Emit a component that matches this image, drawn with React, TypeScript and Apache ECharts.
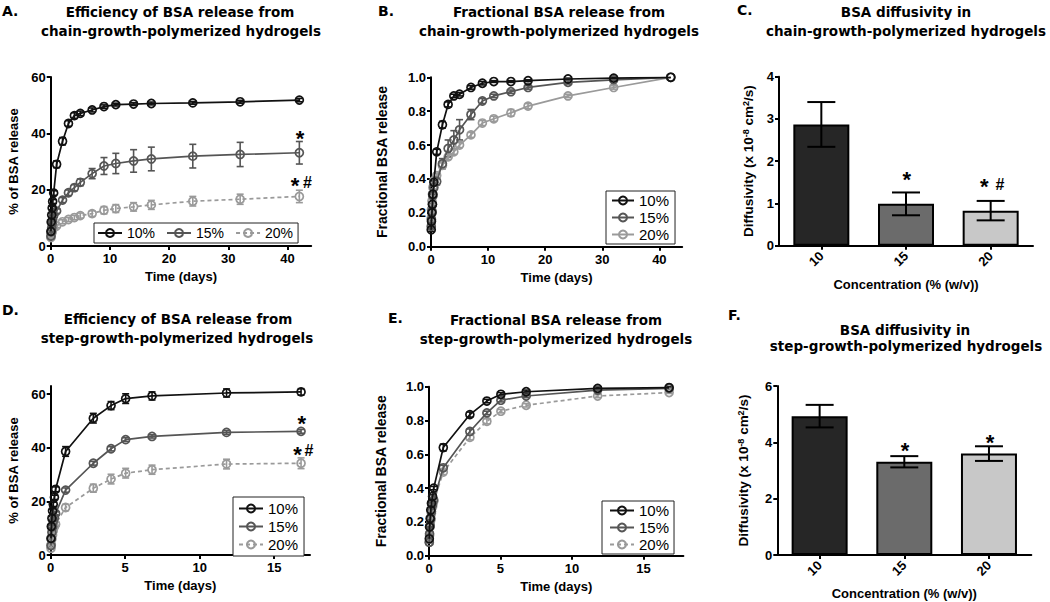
import React, { useEffect, useRef } from "react";
import * as echarts from "echarts";

// ---------- Data: chain-growth (panels A, B) ----------
const chainDays = [0.04, 0.08, 0.17, 0.25, 0.33, 0.5, 1, 2, 3, 4, 5, 7, 9, 11, 14, 17, 24, 32, 42];
const chainPct10 = [5.2, 8.5, 11, 13.5, 15.8, 18.8, 29, 37.2, 43.5, 46.3, 47.1, 48.3, 49.5, 50.2, 50.4, 50.6, 50.8, 51.2, 51.8];
const chainPct10Err = [0.5, 0.5, 0.6, 0.6, 0.7, 0.8, 1.2, 1.3, 1.0, 1.0, 0.8, 0.7, 0.6, 0.5, 0.5, 0.5, 0.5, 0.5, 0.6];
const chainPct15 = [3.5, 5, 6.5, 8, 9.3, 10.8, 12.4, 16.3, 18.9, 20.7, 22.6, 25.7, 28.4, 29.3, 30.2, 30.9, 31.9, 32.5, 33.1];
const chainPct15Err = [0.3, 0.4, 0.5, 0.5, 0.6, 0.6, 0.8, 0.9, 1.0, 1.1, 1.2, 1.8, 3.0, 3.6, 4.0, 4.2, 4.2, 4.3, 4.0];
const chainPct20 = [3, 3.8, 4.5, 5.2, 5.8, 6.4, 7.1, 8.6, 9.4, 10.1, 10.8, 11.5, 12.7, 13.3, 13.9, 14.6, 15.9, 16.6, 17.6];
const chainPct20Err = [0.3, 0.3, 0.4, 0.4, 0.5, 0.5, 0.6, 0.7, 0.7, 0.8, 0.9, 1.0, 1.3, 1.4, 1.5, 1.6, 1.7, 1.8, 2.2];

const chainFrac10 = [0.10, 0.15, 0.20, 0.25, 0.31, 0.38, 0.56, 0.72, 0.84, 0.89, 0.90, 0.94, 0.965, 0.975, 0.975, 0.98, 0.99, 0.995, 1.0];
const chainFrac10Err = [0.01, 0.01, 0.01, 0.01, 0.01, 0.01, 0.015, 0.02, 0.015, 0.01, 0.01, 0.01, 0.01, 0.005, 0.005, 0.005, 0.005, 0.005, 0];
const chainFrac15 = [0.12, 0.16, 0.21, 0.25, 0.30, 0.35, 0.385, 0.49, 0.58, 0.63, 0.69, 0.78, 0.86, 0.89, 0.915, 0.94, 0.97, 0.985, 1.0];
const chainFrac15Err = [0.01, 0.01, 0.01, 0.01, 0.01, 0.015, 0.02, 0.03, 0.05, 0.055, 0.06, 0.03, 0.015, 0.01, 0.01, 0.01, 0.01, 0.005, 0];
const chainFrac20 = [0.17, 0.22, 0.27, 0.31, 0.35, 0.39, 0.42, 0.48, 0.53, 0.56, 0.60, 0.66, 0.73, 0.755, 0.79, 0.83, 0.89, 0.94, 1.0];
const chainFrac20Err = [0.01, 0.01, 0.01, 0.01, 0.01, 0.01, 0.015, 0.015, 0.015, 0.015, 0.015, 0.015, 0.015, 0.015, 0.02, 0.015, 0.01, 0.01, 0];

// ---------- Data: step-growth (panels D, E) ----------
const stepDays = [0.02, 0.04, 0.08, 0.125, 0.17, 0.25, 0.33, 1, 2.86, 4.05, 5.03, 6.8, 11.8, 16.8];
const stepPct10 = [6.2, 10.6, 13.7, 16.4, 18.9, 21.5, 24.5, 38.6, 51, 55.7, 58.3, 59.3, 60.4, 60.8];
const stepPct10Err = [0.5, 0.6, 0.7, 0.7, 0.8, 0.8, 0.9, 1.8, 1.8, 1.5, 1.8, 1.5, 1.5, 1.2];
const stepPct15 = [3.5, 6, 8.5, 10.5, 12.5, 14, 15.5, 24.2, 34.2, 39.6, 43, 44.2, 45.7, 46.1];
const stepPct15Err = [0.3, 0.4, 0.5, 0.5, 0.5, 0.6, 0.6, 0.8, 0.7, 0.8, 0.7, 0.6, 0.7, 0.7];
const stepPct20 = [2.5, 4, 6, 7.5, 9, 10.5, 11.5, 17.7, 24.9, 28.3, 30.5, 31.8, 33.9, 34.2];
const stepPct20Err = [0.3, 0.4, 0.5, 0.6, 0.7, 0.8, 0.8, 1.2, 1.5, 1.8, 1.8, 1.7, 1.8, 2.0];

const stepFrac10 = [0.10, 0.17, 0.22, 0.27, 0.31, 0.35, 0.40, 0.64, 0.835, 0.915, 0.955, 0.97, 0.99, 0.995];
const stepFrac10Err = [0.005, 0.005, 0.01, 0.01, 0.01, 0.01, 0.01, 0.02, 0.015, 0.01, 0.01, 0.01, 0.005, 0.005];
const stepFrac15 = [0.08, 0.13, 0.18, 0.22, 0.26, 0.30, 0.33, 0.52, 0.735, 0.845, 0.92, 0.945, 0.98, 0.99];
const stepFrac15Err = [0.005, 0.005, 0.01, 0.01, 0.01, 0.01, 0.01, 0.015, 0.015, 0.01, 0.01, 0.01, 0.005, 0.005];
const stepFrac20 = [0.08, 0.12, 0.17, 0.21, 0.25, 0.29, 0.32, 0.495, 0.70, 0.795, 0.855, 0.89, 0.945, 0.965];
const stepFrac20Err = [0.005, 0.005, 0.01, 0.01, 0.01, 0.01, 0.01, 0.015, 0.015, 0.015, 0.01, 0.01, 0.01, 0.005];

// ---------- Data: diffusivity (panels C, F) ----------
const concLabels = ["10", "15", "20"];
const chainDiff = [2.87, 0.99, 0.83];
const chainDiffErr = [0.53, 0.27, 0.23];
const stepDiff = [4.93, 3.31, 3.6];
const stepDiffErr = [0.4, 0.2, 0.26];

const seriesLabels = ["10%", "15%", "20%"];
const timeTicksChain = [0, 10, 20, 30, 40];
const timeTicksStep = [0, 5, 10, 15];

// ---------- Styles ----------
const FONT = "'Liberation Sans', Arial, sans-serif";
const TFONT = "'DejaVu Sans', 'Liberation Sans', sans-serif";
const lineColors = ["#111111", "#555555", "#9a9a9a"];
const barColors = ["#262626", "#6b6b6b", "#c8c8c8"];

function errRender(capHalf: number, width: number) {
  return (params: any, api: any) => {
    const x = api.value(0);
    const y = api.value(1);
    const e = api.value(2);
    if (!e) return { type: "group", children: [] };
    const hi = api.coord([x, y + e]);
    const lo = api.coord([x, y - e]);
    const style = { stroke: api.visual("color"), lineWidth: width, fill: "none" };
    return {
      type: "group",
      children: [
        { type: "line", shape: { x1: hi[0], y1: hi[1], x2: lo[0], y2: lo[1] }, style },
        { type: "line", shape: { x1: hi[0] - capHalf, y1: hi[1], x2: hi[0] + capHalf, y2: hi[1] }, style },
        { type: "line", shape: { x1: lo[0] - capHalf, y1: lo[1], x2: lo[0] + capHalf, y2: lo[1] }, style },
      ],
    };
  };
}

function lineSet(panel: string, gi: number, idx: number, days: number[], vals: number[], errs: number[], dashed: boolean) {
  const color = lineColors[idx];
  return [
    {
      type: "custom",
      xAxisIndex: gi,
      yAxisIndex: gi,
      silent: true,
      z: 2,
      itemStyle: { color },
      renderItem: errRender(3.5, 1.6),
      data: days.map((d, i) => [d, vals[i], errs[i]]),
    },
    {
      name: panel + "|" + seriesLabels[idx],
      type: "line",
      xAxisIndex: gi,
      yAxisIndex: gi,
      z: 3 + (2 - idx),
      symbol: "circle",
      symbolSize: 8,
      showSymbol: true,
      lineStyle: { color, width: 1.7, type: dashed ? [4, 3] : "solid" },
      itemStyle: { color: "rgba(255,255,255,0)", borderColor: color, borderWidth: 1.7 },
      emphasis: { disabled: true },
      data: days.map((d, i) => [d, vals[i]]),
    },
  ];
}

const axisBase = {
  axisLine: { show: true, onZero: false, lineStyle: { color: "#000", width: 2 } },
  axisTick: { show: true, length: 4, lineStyle: { color: "#000", width: 2 } },
  splitLine: { show: false },
  nameLocation: "middle",
};
const labelBase = { color: "#000", fontSize: 13, fontWeight: "bold", fontFamily: FONT };
const nameBase = { color: "#000", fontSize: 13, fontWeight: "bold", fontFamily: FONT };

function timeAxis(gi: number, max: number, interval: number, ticks: number[]) {
  return {
    ...axisBase,
    type: "value",
    gridIndex: gi,
    min: 0,
    max,
    interval,
    name: "Time (days)",
    nameGap: 24,
    nameTextStyle: nameBase,
    axisTick: { ...axisBase.axisTick, customValues: ticks },
    axisLabel: { ...labelBase, margin: 6, customValues: ticks },
  };
}

function valAxis(gi: number, name: any, max: number, interval: number, ticks: number[], gap: number, fmt?: (v: number) => string, rich?: any, nameSize = 13) {
  return {
    ...axisBase,
    type: "value",
    gridIndex: gi,
    min: 0,
    max,
    interval,
    name,
    nameGap: gap,
    nameTextStyle: rich ? { ...nameBase, fontSize: nameSize, rich } : { ...nameBase, fontSize: nameSize },
    axisTick: { ...axisBase.axisTick, customValues: ticks },
    axisLabel: { ...labelBase, margin: 5, customValues: ticks, formatter: fmt },
  };
}

function catAxis(gi: number) {
  return {
    ...axisBase,
    type: "category",
    gridIndex: gi,
    data: concLabels,
    name: "Concentration (% (w/v))",
    nameGap: 32,
    nameTextStyle: nameBase,
    axisTick: { ...axisBase.axisTick, alignWithLabel: true },
    axisLabel: { ...labelBase, rotate: 45, margin: 8 },
  };
}

function barSet(gi: number, vals: number[], errs: number[]) {
  return [
    {
      type: "bar",
      xAxisIndex: gi,
      yAxisIndex: gi,
      barWidth: 56,
      z: 2,
      emphasis: { disabled: true },
      data: vals.map((v, i) => ({ value: v, itemStyle: { color: barColors[i], borderColor: "#000", borderWidth: 2 } })),
    },
    {
      type: "custom",
      xAxisIndex: gi,
      yAxisIndex: gi,
      silent: true,
      z: 4,
      itemStyle: { color: "#000" },
      renderItem: errRender(14, 2),
      data: vals.map((v, i) => [i, v, errs[i]]),
    },
  ];
}

function legendFor(panel: string, opts: any) {
  return {
    data: seriesLabels.map((l) => panel + "|" + l),
    formatter: (n: string) => n.split("|")[1],
    selectedMode: false,
    borderColor: "#222",
    borderWidth: 1,
    backgroundColor: "#fff",
    itemHeight: 10,
    textStyle: { color: "#000", fontSize: 15, fontFamily: FONT, lineHeight: 14 },
    ...opts,
  };
}

function txt(text: string, x: number, y: number, size: number, font: string, align = "center", weight = "bold") {
  return {
    type: "text",
    x,
    y,
    z: 100,
    style: {
      text,
      fill: "#000",
      font: `${weight} ${size}px ${font}`,
      align,
      verticalAlign: "middle",
      textAlign: align,
      textVerticalAlign: "middle",
    },
  };
}

const titleLines = [
  txt("Efficiency of BSA release from", 180, 11.5, 13.5, TFONT),
  txt("chain-growth-polymerized hydrogels", 181, 30.5, 13.5, TFONT),
  txt("Fractional BSA release from", 559, 11.5, 13.5, TFONT),
  txt("chain-growth-polymerized hydrogels", 559, 30.5, 13.5, TFONT),
  txt("BSA diffusivity in", 906, 11.5, 13.5, TFONT),
  txt("chain-growth-polymerized hydrogels", 906, 30.5, 13.5, TFONT),
  txt("Efficiency of BSA release from", 178, 318.5, 13.5, TFONT),
  txt("step-growth-polymerized hydrogels", 177, 338, 13.5, TFONT),
  txt("Fractional BSA release from", 556, 319.5, 13.5, TFONT),
  txt("step-growth-polymerized hydrogels", 556, 339, 13.5, TFONT),
  txt("BSA diffusivity in", 905, 330, 13.5, TFONT),
  txt("step-growth-polymerized hydrogels", 906, 346, 13.5, TFONT),
  txt("A.", 2, 10.5, 14, TFONT, "left"),
  txt("B.", 378, 11, 14, TFONT, "left"),
  txt("C.", 737, 10, 14, TFONT, "left"),
  txt("D.", 2, 310, 14, TFONT, "left"),
  txt("E.", 388, 318, 14, TFONT, "left"),
  txt("F.", 728, 315, 14, TFONT, "left"),
];

const star = (x: number, y: number) => txt("*", x, y + 5, 22, FONT);
const hash = (x: number, y: number) => txt("#", x, y, 16, FONT);
const annotations = [
  star(300, 133),
  star(295, 180),
  hash(307.5, 182.7),
  star(906.7, 174),
  star(984.3, 181.7),
  hash(1000, 184),
  star(301.7, 418.3),
  star(297.5, 449),
  hash(309, 450.7),
  star(905, 445.7),
  star(990, 437.3),
];

export default function App() {
  const ref = useRef<HTMLDivElement>(null);
  useEffect(() => {
    if (!ref.current) return;
    const chart = echarts.init(ref.current, null, { renderer: "svg" });
    const diffRich = {
      sup: { fontSize: 9, fontWeight: "bold", fontFamily: FONT, verticalAlign: "top", lineHeight: 9, color: "#000" },
    };
    const diffName = "Diffusivity (x 10{sup|-8} cm{sup|2}/s)";
    const option: any = {
      animation: false,
      backgroundColor: "#fff",
      grid: [
        { left: 50.7, top: 77, width: 260.5, height: 169 },
        { left: 431, top: 77.3, width: 251.2, height: 169.4 },
        { left: 779, top: 76.7, width: 254, height: 169 },
        { left: 50.7, top: 386, width: 259.3, height: 169 },
        { left: 429, top: 386.7, width: 254.4, height: 169 },
        { left: 777.3, top: 386, width: 254, height: 169 },
      ],
      xAxis: [
        timeAxis(0, 44, 10, timeTicksChain),
        timeAxis(1, 44, 10, timeTicksChain),
        catAxis(2),
        timeAxis(3, 17.4, 5, timeTicksStep),
        timeAxis(4, 17.8, 5, timeTicksStep),
        catAxis(5),
      ],
      yAxis: [
        valAxis(0, "% of BSA release", 60, 20, [0, 20, 40, 60], 31),
        valAxis(1, "Fractional BSA release", 1, 0.2, [0, 0.2, 0.4, 0.6, 0.8, 1], 42, (v: number) => v.toFixed(1), undefined, 14),
        valAxis(2, diffName, 4, 1, [0, 1, 2, 3, 4], 24, undefined, diffRich, 13.5),
        valAxis(3, "% of BSA release", 63, 20, [0, 20, 40, 60], 31),
        valAxis(4, "Fractional BSA release", 1, 0.2, [0, 0.2, 0.4, 0.6, 0.8, 1], 41, (v: number) => v.toFixed(1), undefined, 14),
        valAxis(5, diffName, 6, 2, [0, 2, 4, 6], 27, undefined, diffRich, 13.5),
      ],
      legend: [
        legendFor("A", { orient: "horizontal", left: 94, top: 223, itemWidth: 24, itemGap: 11, padding: [3, 5, 3, 3], textStyle: { color: "#000", fontSize: 14, fontFamily: FONT, lineHeight: 14 } }),
        legendFor("B", { orient: "vertical", left: 606, top: 191, itemWidth: 22, itemGap: 2, padding: [2, 6, 2, 5] }),
        legendFor("D", { orient: "vertical", left: 233, top: 497, itemWidth: 24, itemGap: 3, padding: [4, 6, 4, 5] }),
        legendFor("E", { orient: "vertical", left: 602, top: 501, itemWidth: 24, itemGap: 2, padding: [2, 5, 2, 7] }),
      ],
      graphic: [...titleLines, ...annotations],
      series: [
        ...lineSet("A", 0, 0, chainDays, chainPct10, chainPct10Err, false),
        ...lineSet("A", 0, 1, chainDays, chainPct15, chainPct15Err, false),
        ...lineSet("A", 0, 2, chainDays, chainPct20, chainPct20Err, true),
        ...lineSet("B", 1, 0, chainDays, chainFrac10, chainFrac10Err, false),
        ...lineSet("B", 1, 1, chainDays, chainFrac15, chainFrac15Err, false),
        ...lineSet("B", 1, 2, chainDays, chainFrac20, chainFrac20Err, false),
        ...barSet(2, chainDiff, chainDiffErr),
        ...lineSet("D", 3, 0, stepDays, stepPct10, stepPct10Err, false),
        ...lineSet("D", 3, 1, stepDays, stepPct15, stepPct15Err, false),
        ...lineSet("D", 3, 2, stepDays, stepPct20, stepPct20Err, true),
        ...lineSet("E", 4, 0, stepDays, stepFrac10, stepFrac10Err, false),
        ...lineSet("E", 4, 1, stepDays, stepFrac15, stepFrac15Err, false),
        ...lineSet("E", 4, 2, stepDays, stepFrac20, stepFrac20Err, true),
        ...barSet(5, stepDiff, stepDiffErr),
      ],
    };
    chart.setOption(option);
    return () => chart.dispose();
  }, []);
  return <div ref={ref} style={{ position: "absolute", left: 0, top: 0, width: 1050, height: 602 }} />;
}
